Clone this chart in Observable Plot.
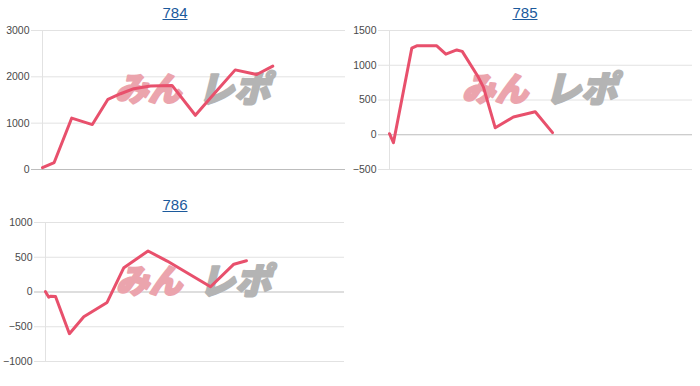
<!DOCTYPE html>
<html>
<head>
<meta charset="utf-8">
<script src="https://cdn.jsdelivr.net/npm/d3@7"></script>
<script src="https://cdn.jsdelivr.net/npm/@observablehq/plot@0.6"></script>
<style>
  body { margin: 0; background: #fff; }
  #wrap { position: relative; width: 700px; height: 386px; overflow: hidden; }
  .panel { position: absolute; width: 350px; height: 192px; }
  .title {
    position: absolute; left: 0; top: 2px; width: 100%; text-align: center;
    font: 15px Arial, "Liberation Sans", sans-serif; line-height: 22px;
  }
  .title a { color: #1c5a9c; text-decoration: underline; }
  .panel svg { position: absolute; left: 0; top: 22px; }
</style>
</head>
<body>
<div id="wrap"></div>
<script>
// Machine numbers shown as panel titles
const machines = ["784", "785", "786"];

// Game count (x) and coin difference (y) for each machine
const games784 = [0, 385, 965, 1645, 2160, 2575, 3015, 3565, 4275, 5045, 5700, 6360, 7070, 7600];
const diff784  = [40, 150, 1110, 970, 1515, 1635, 1745, 1800, 1815, 1170, 1660, 2150, 2050, 2230];

const games785 = [0, 130, 735, 900, 1560, 1860, 2220, 2400, 2930, 3100, 3490, 4090, 4810, 5380];
const diff785  = [15, -115, 1245, 1280, 1280, 1160, 1220, 1200, 830, 685, 100, 255, 330, 30];

const games786 = [0, 110, 180, 335, 800, 1280, 2060, 2620, 3430, 4070, 5520, 6300, 6720];
const diff786  = [5, -75, -60, -65, -600, -355, -150, 350, 590, 445, 75, 400, 450];

// Y axis ticks per machine
const ticks784 = [0, 1000, 2000, 3000];
const ticks785 = [-500, 0, 500, 1000, 1500];
const ticks786 = [-1000, -500, 0, 500, 1000];

const gameMax = 10000;
const lineColor = "#e8506c";

const panels = [
  {name: machines[0], games: games784, diff: diff784, ticks: ticks784, left: 0,   top: 0,   ml: 42, mr: 5},
  {name: machines[1], games: games785, diff: diff785, ticks: ticks785, left: 350, top: 0,   ml: 39, mr: 8},
  {name: machines[2], games: games786, diff: diff786, ticks: ticks786, left: 0,   top: 192, ml: 45, mr: 6}
];

const wrap = document.getElementById("wrap");

for (const p of panels) {
  const rows = p.games.map((g, i) => ({game: g, diff: p.diff[i]}));
  const div = document.createElement("div");
  div.className = "panel";
  div.style.left = p.left + "px";
  div.style.top = p.top + "px";

  const title = document.createElement("div");
  title.className = "title";
  const a = document.createElement("a");
  a.href = "#";
  a.textContent = p.name;
  title.appendChild(a);
  div.appendChild(title);

  const domain = d3.extent(p.ticks);
  const chart = Plot.plot({
    width: 350,
    height: 170,
    marginTop: 8,
    marginBottom: 23,
    marginLeft: p.ml,
    marginRight: p.mr,
    style: {fontFamily: "Arial, 'Liberation Sans', sans-serif", fontSize: "10.5px", color: "#444", background: "transparent"},
    x: {domain: [0, gameMax], axis: null},
    y: {domain, label: null},
    marks: [
      // horizontal grid lines, extended left as tick marks
      Plot.ruleY(p.ticks.filter(t => t !== 0), {stroke: "#e2e2e2", insetLeft: -11}),
      Plot.ruleY([0], {stroke: "#bdbdbd", insetLeft: -11}),
      Plot.ruleX([0], {stroke: "#e2e2e2"}),
      Plot.axisY(p.ticks, {tickSize: 0, tickPadding: 13, fill: "#4a4a4a", label: null, tickFormat: d3.format("d")}),
      // site logo watermark
      Plot.text(["みん"], {frameAnchor: "middle", dx: -46, dy: -10, fill: "#eba4ad", stroke: "#eba4ad", strokeWidth: 2.2,
        fontSize: 33, fontWeight: 900, fontStyle: "italic", fontFamily: "'Noto Sans CJK JP', sans-serif"}),
      Plot.text(["レポ"], {frameAnchor: "middle", dx: 40, dy: -10, fill: "#b4b4b4", stroke: "#b4b4b4", strokeWidth: 2.2,
        fontSize: 36, fontWeight: 900, fontStyle: "italic", fontFamily: "'Noto Sans CJK JP', sans-serif"}),
      Plot.line(rows, {x: "game", y: "diff", stroke: lineColor, strokeWidth: 3, strokeLinejoin: "round", strokeLinecap: "round"})
    ]
  });
  div.appendChild(chart);
  wrap.appendChild(div);
}
</script>
</body>
</html>
